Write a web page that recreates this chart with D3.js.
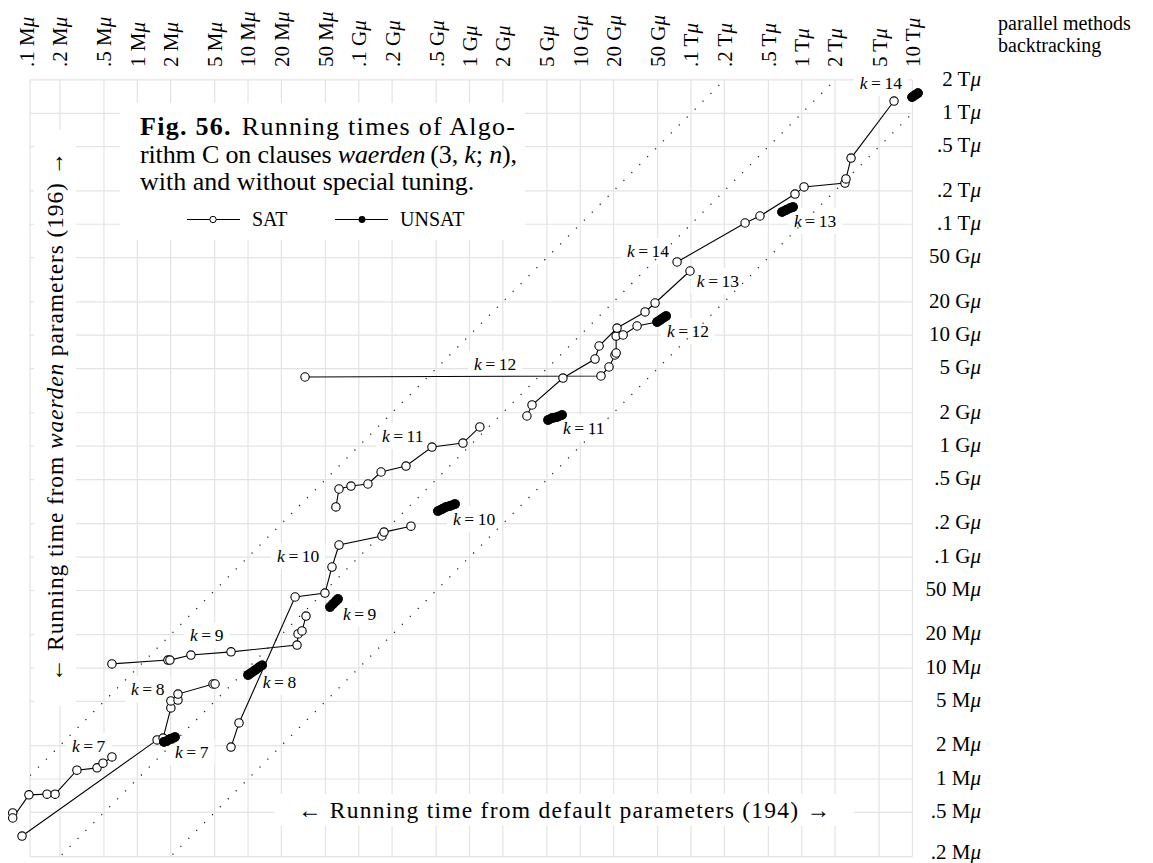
<!DOCTYPE html>
<html>
<head>
<meta charset="utf-8">
<script src="https://cdn.jsdelivr.net/npm/d3@7"></script>
<style>
  body { margin: 0; background: #fff; }
  svg text { font-family: "Liberation Serif", "DejaVu Serif", serif; fill: #000; }
</style>
</head>
<body>
<div id="svganchor"></div>
<script>
// tick values and labels (running time in mems)
const xTickValues = [1e5, 2e5, 5e5, 1e6, 2e6, 5e6, 1e7, 2e7, 5e7, 1e8, 2e8, 5e8, 1e9, 2e9, 5e9,
                     1e10, 2e10, 5e10, 1e11, 2e11, 5e11, 1e12, 2e12, 5e12, 1e13];
const xTickLabels = [".1 M", ".2 M", ".5 M", "1 M", "2 M", "5 M", "10 M", "20 M", "50 M",
                     ".1 G", ".2 G", ".5 G", "1 G", "2 G", "5 G", "10 G", "20 G", "50 G",
                     ".1 T", ".2 T", ".5 T", "1 T", "2 T", "5 T", "10 T"];
const yTickValues = [2e5, 5e5, 1e6, 2e6, 5e6, 1e7, 2e7, 5e7, 1e8, 2e8, 5e8, 1e9, 2e9, 5e9,
                     1e10, 2e10, 5e10, 1e11, 2e11, 5e11, 1e12, 2e12];
const yTickLabels = [".2 M", ".5 M", "1 M", "2 M", "5 M", "10 M", "20 M", "50 M",
                     ".1 G", ".2 G", ".5 G", "1 G", "2 G", "5 G", "10 G", "20 G", "50 G",
                     ".1 T", ".2 T", ".5 T", "1 T", "2 T"];
const plotX = [1.075e5, 1e13];
const plotY = [2e5, 2e12];
const diagonals = [10, 1, 0.1];

// [default time, waerden time]
const satK7 = [[7.5e4, 4.94e5], [7.5e4, 4.45e5], [1.05e5, 7.2e5], [1.53e5, 7.3e5], [1.81e5, 7.3e5],
               [2.85e5, 1.2e6], [4.33e5, 1.26e6], [4.9e5, 1.39e6], [5.9e5, 1.58e6]];
const satK8 = [[9.1e4, 3.06e5], [1.51e6, 2.25e6], [1.71e6, 2.34e6], [2.01e6, 4.37e6], [2.01e6, 5.05e6],
               [2.33e6, 5.15e6], [2.33e6, 5.83e6], [4.83e6, 7.18e6], [5.04e6, 7.18e6]];
const satK9 = [[5.9e5, 1.09e7], [1.89e6, 1.18e7], [1.97e6, 1.18e7], [3.05e6, 1.31e7], [7.02e6, 1.4e7],
               [2.77e7, 1.61e7], [2.83e7, 2.03e7], [3.07e7, 2.16e7], [3.34e7, 2.94e7]];
const satK10 = [[7.02e6, 1.94e6], [8.29e6, 3.2e6], [2.66e7, 4.37e7], [4.95e7, 4.74e7], [5.73e7, 8.14e7],
                [6.63e7, 1.285e8], [1.62e8, 1.55e8], [1.69e8, 1.68e8], [2.96e8, 1.9e8]];
const satK11 = [[6.22e7, 2.83e8], [6.63e7, 4.11e8], [8.51e7, 4.37e8], [1.21e8, 4.56e8], [1.59e8, 5.85e8],
                [2.67e8, 6.62e8], [4.58e8, 9.82e8], [8.73e8, 1.067e9], [1.24e9, 1.49e9]];
const satK12 = [[3.27e7, 4.2e9], [1.54e10, 4.29e9], [1.82e10, 5.17e9], [2.06e10, 6.63e9], [2.11e10, 6.91e9],
                [2.11e10, 9.83e9], [2.44e10, 1.004e10], [3.26e10, 1.21e10]];
const satK13 = [[3.3e9, 1.87e9], [3.67e9, 2.35e9], [6.98e9, 4.11e9], [1.36e10, 6.1e9], [1.48e10, 7.99e9],
                [2.15e10, 1.16e10], [3.85e10, 1.62e10], [4.74e10, 1.95e10], [9.8e10, 3.79e10]];
const satK14 = [[7.49e10, 4.57e10], [3.08e11, 1.026e11], [4.2e11, 1.187e11], [8.7e11, 1.87e11], [1.05e12, 2.17e11],
                [2.46e12, 2.35e11], [2.51e12, 2.56e11], [2.79e12, 3.95e11], [6.82e12, 1.29e12]];

const unsatK7 = [[1.74e6, 2.16e6], [1.85e6, 2.2e6], [1.97e6, 2.29e6], [2.1e6, 2.34e6], [2.19e6, 2.39e6]];
const unsatK8 = [[1.0e7, 8.65e6], [1.06e7, 9.0e6], [1.16e7, 9.6e6], [1.26e7, 1.02e7], [1.34e7, 1.06e7]];
const unsatK9 = [[5.5e7, 3.55e7], [5.85e7, 3.78e7], [6.22e7, 4.02e7], [6.49e7, 4.19e7]];
const unsatK10 = [[5.19e8, 2.6e8], [5.65e8, 2.71e8], [6.14e8, 2.83e8], [6.67e8, 2.89e8], [7.4e8, 3.01e8]];
const unsatK11 = [[5.12e9, 1.72e9], [5.56e9, 1.79e9], [6.17e9, 1.83e9], [6.85e9, 1.91e9]];
const unsatK12 = [[4.94e10, 1.315e10], [5.26e10, 1.37e10], [5.6e10, 1.43e10], [5.96e10, 1.49e10]];
const unsatK13 = [[6.64e11, 1.29e11], [7.22e11, 1.344e11], [7.84e11, 1.4e11], [8.35e11, 1.43e11]];
const unsatK14 = [[9.92e12, 1.4e12], [1.056e13, 1.46e12], [1.123e13, 1.52e12]];

const satSeries = [satK7, satK8, satK9, satK10, satK11, satK12, satK13, satK14];
const unsatSeries = [unsatK7, unsatK8, unsatK9, unsatK10, unsatK11, unsatK12, unsatK13, unsatK14];

// k labels: value of k, then where the label sits (data coords of left/baseline)
const labelK = [7, 7, 8, 8, 9, 9, 10, 10, 11, 11, 12, 12, 13, 13, 14, 14];
const labelSpots = [[2.57e5, 1.75e6], [2.19e6, 1.55e6], [8.77e5, 5.71e6], [1.36e7, 6.6e6],
                    [2.99e6, 1.75e7], [7.2e7, 2.71e7], [1.83e7, 9.04e7], [7.1e8, 1.95e8],
                    [1.62e8, 1.09e9], [6.99e9, 1.29e9], [1.1e9, 4.85e9], [6.07e10, 9.64e9],
                    [1.13e11, 2.72e10], [8.52e11, 9.44e10], [2.64e10, 5.07e10], [3.35e12, 1.66e12]];

const width = 1153, height = 863;

let svg = d3.select("#svganchor")
    .append("svg")
    .attr("width", width)
    .attr("height", height);

let x = d3.scaleLog().domain([1e6, 1e12]).range([137.3, 801.7]);
let y = d3.scaleLog().domain([1e6, 1e12]).range([779, 113.3]);

let plotLeft = x(plotX[0]), plotRight = x(plotX[1]);
let plotTop = y(plotY[1]), plotBottom = y(plotY[0]);

// grid
let grid = svg.append("g")
    .attr("stroke", "#e3e3e3")
    .attr("stroke-width", 1.2);

grid.selectAll(".vgrid")
    .data(xTickValues.filter(d => d > plotX[0]))
    .join("line")
    .attr("class", "vgrid")
    .attr("x1", d => x(d)).attr("x2", d => x(d))
    .attr("y1", plotTop).attr("y2", plotBottom);

grid.selectAll(".hgrid")
    .data(yTickValues)
    .join("line")
    .attr("class", "hgrid")
    .attr("x1", plotLeft).attr("x2", plotRight)
    .attr("y1", d => y(d)).attr("y2", d => y(d));

grid.append("line").attr("x1", plotLeft).attr("x2", plotLeft).attr("y1", plotTop).attr("y2", plotBottom);

// white patches behind texts go here
let masks = svg.append("g").attr("fill", "#fff");
function maskBehind(node, px, py) {
    let b = node.getBBox();
    masks.append("rect")
        .attr("x", b.x - px).attr("y", b.y - py)
        .attr("width", b.width + 2 * px).attr("height", b.height + 2 * py);
}

// caption box
masks.append("rect").attr("x", 120).attr("y", 103).attr("width", 405).attr("height", 137);

// dotted diagonals y = c x
svg.append("clipPath").attr("id", "frame")
    .append("rect").attr("x", plotLeft).attr("y", plotTop)
    .attr("width", plotRight - plotLeft).attr("height", plotBottom - plotTop);

let line = d3.line().x(d => x(d[0])).y(d => y(d[1]));

svg.append("g")
    .attr("clip-path", "url(#frame)")
    .selectAll("path")
    .data(diagonals)
    .join("path")
    .attr("d", c => line([[plotX[0] / 100, plotX[0] / 100 * c], [plotX[1] * 100, plotX[1] * 100 * c]]))
    .attr("fill", "none")
    .attr("stroke", "#222")
    .attr("stroke-width", 1.3)
    .attr("stroke-dasharray", "1.2,10");

// SAT lines with open circles
let satG = svg.append("g");
satSeries.forEach((s, i) => {
    let pts = s.slice();
    if (labelK[2 * i] === 12) pts.push(unsatSeries[i][0]);  // k=12 runs on into its UNSAT run
    satG.append("path")
        .attr("d", line(pts))
        .attr("fill", "none")
        .attr("stroke", "#000")
        .attr("stroke-width", 1.1);
});
satSeries.forEach(s => {
    satG.selectAll(null)
        .data(s)
        .join("circle")
        .attr("cx", d => x(d[0]))
        .attr("cy", d => y(d[1]))
        .attr("r", 4.2)
        .attr("fill", "#fff")
        .attr("stroke", "#000")
        .attr("stroke-width", 1.1);
});

// UNSAT runs: filled circles, packed into a blob
let unsatG = svg.append("g");
unsatSeries.forEach(s => {
    unsatG.append("path")
        .attr("d", line(s))
        .attr("fill", "none")
        .attr("stroke", "#000")
        .attr("stroke-width", 9.5)
        .attr("stroke-linecap", "round");
    unsatG.selectAll(null)
        .data(s)
        .join("circle")
        .attr("cx", d => x(d[0]))
        .attr("cy", d => y(d[1]))
        .attr("r", 4.8)
        .attr("fill", "#000");
});

// k labels
let labG = svg.append("g").attr("font-size", 17.5);
labelK.forEach((k, i) => {
    let t = labG.append("text")
        .attr("x", x(labelSpots[i][0]))
        .attr("y", y(labelSpots[i][1]));
    t.append("tspan").attr("font-style", "italic").text("k");
    t.append("tspan").attr("dx", 3.5).text("=");
    t.append("tspan").attr("dx", 3.5).text(k);
    maskBehind(t.node(), 6, 3);
});

// axes
function withMu(sel) {
    sel.each(function() {
        let t = d3.select(this);
        let s = t.text();
        t.text(null);
        t.append("tspan").text(s);
        t.append("tspan").attr("font-style", "italic").text("μ");
    });
}

let xAxis = d3.axisTop(x)
    .tickValues(xTickValues)
    .tickSize(0)
    .tickPadding(0)
    .tickFormat((d, i) => xTickLabels[i]);

let gx = svg.append("g")
    .attr("transform", "translate(0,67)")
    .call(xAxis)
    .attr("font-family", null)
    .attr("font-size", 21);
gx.select(".domain").remove();
gx.selectAll("text")
    .attr("transform", "rotate(-90)")
    .attr("text-anchor", "start")
    .attr("x", 0).attr("y", 0)
    .attr("dy", "0.33em")
    .call(withMu);

let yAxis = d3.axisRight(y)
    .tickValues(yTickValues)
    .tickSize(0)
    .tickPadding(0)
    .tickFormat((d, i) => yTickLabels[i]);

let gy = svg.append("g")
    .attr("transform", "translate(981,0)")
    .call(yAxis)
    .attr("font-family", null)
    .attr("font-size", 21);
gy.select(".domain").remove();
gy.selectAll("text")
    .attr("text-anchor", "end")
    .attr("x", 0)
    .attr("dy", (d, i) => i === 0 ? "0.1em" : "0.25em")  // lowest one sits at the page edge
    .call(withMu);

// axis titles
let bt = svg.append("text")
    .attr("x", 298).attr("y", 818)
    .attr("font-size", 23.5)
    .attr("textLength", 532)
    .attr("lengthAdjust", "spacing")
    .text("← Running time from default parameters (194) →");
maskBehind(bt.node(), 24, 3);

let lt = svg.append("text")
    .attr("transform", "translate(63,682) rotate(-90)")
    .attr("font-size", 23.5)
    .attr("textLength", 530)
    .attr("lengthAdjust", "spacing");
lt.append("tspan").text("← Running time from ");
lt.append("tspan").attr("font-style", "italic").text("waerden");
lt.append("tspan").text(" parameters (196) →");
{
    let b = lt.node().getBBox();
    masks.append("rect")
        .attr("x", 63 + b.y - 8).attr("y", 682 - b.x - b.width - 22)
        .attr("width", b.height + 16).attr("height", b.width + 46);
}

// caption
let cap = svg.append("g").attr("font-size", 26);
let c1 = cap.append("text").attr("x", 140).attr("y", 135)
    .attr("textLength", 375).attr("lengthAdjust", "spacing");
c1.append("tspan").attr("font-weight", "bold").text("Fig. 56.");
c1.append("tspan").attr("dx", 10).text("Running times of Algo-");
let c2 = cap.append("text").attr("x", 140).attr("y", 163)
    .attr("textLength", 377).attr("lengthAdjust", "spacing");
c2.append("tspan").text("rithm C on clauses ");
c2.append("tspan").attr("font-style", "italic").text("waerden");
c2.append("tspan").text("\u2009(3, ");
c2.append("tspan").attr("font-style", "italic").text("k");
c2.append("tspan").text("; ");
c2.append("tspan").attr("font-style", "italic").text("n");
c2.append("tspan").text("),");
cap.append("text").attr("x", 140).attr("y", 190)
    .text("with and without special tuning.");

// legend
let leg = svg.append("g");
leg.append("line").attr("x1", 187).attr("x2", 240).attr("y1", 219.5).attr("y2", 219.5)
    .attr("stroke", "#000").attr("stroke-width", 1);
leg.append("circle").attr("cx", 213).attr("cy", 219.5).attr("r", 3.2)
    .attr("fill", "#fff").attr("stroke", "#000");
leg.append("text").attr("x", 252).attr("y", 226).attr("font-size", 20).text("SAT");
leg.append("line").attr("x1", 335).attr("x2", 388).attr("y1", 219.5).attr("y2", 219.5)
    .attr("stroke", "#000").attr("stroke-width", 1);
leg.append("circle").attr("cx", 362).attr("cy", 219.5).attr("r", 3.4).attr("fill", "#000");
leg.append("text").attr("x", 400).attr("y", 226).attr("font-size", 20).text("UNSAT");

// stray labels top right
let stray = svg.append("text").attr("font-size", 20);
stray.append("tspan").attr("x", 998).attr("y", 30).text("parallel methods");
stray.append("tspan").attr("x", 998).attr("y", 52).text("backtracking");
</script>
</body>
</html>
